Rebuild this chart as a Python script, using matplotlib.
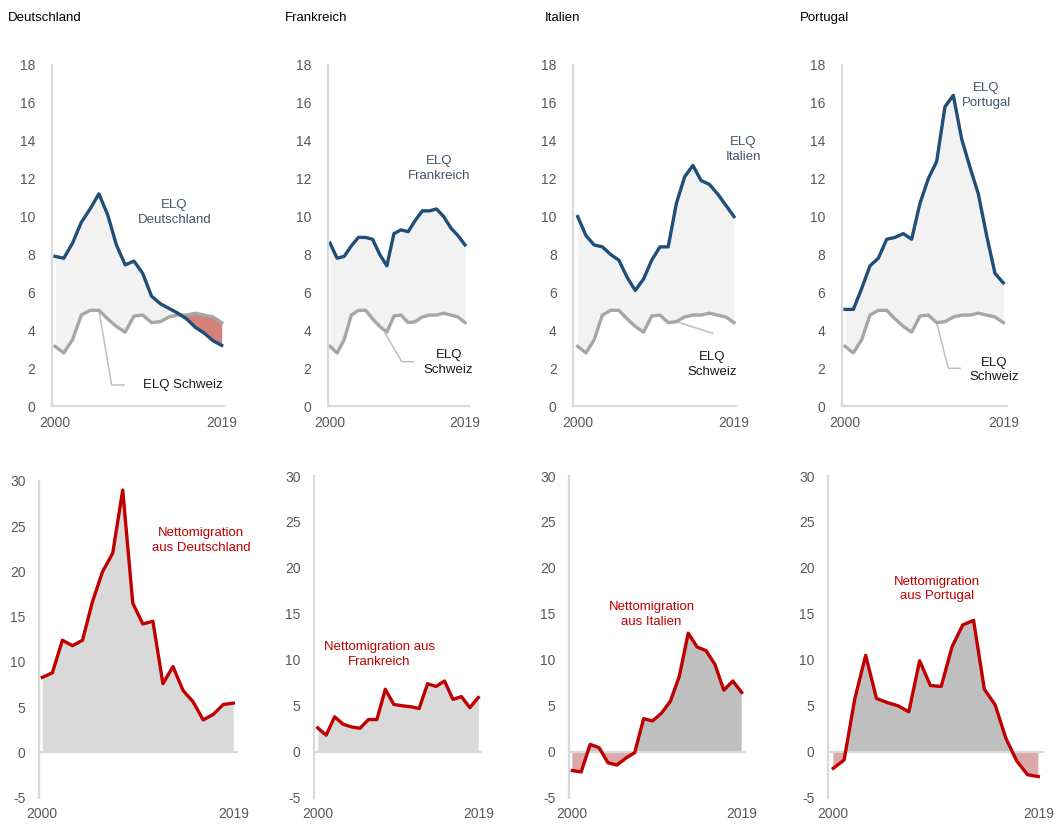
import numpy as np
import matplotlib
matplotlib.use("Agg")
from matplotlib import pyplot as plt

plt.rcParams['font.family'] = ['Liberation Sans', 'DejaVu Sans']
plt.rcParams['axes.unicode_minus'] = False

W, H = 1056, 825

years = np.arange(2000, 2020)
countries = ["Deutschland", "Frankreich", "Italien", "Portugal"]

# Erwerbslosenquote (ELQ), in %
elq_schweiz = [3.15, 2.8, 3.5, 4.8, 5.05, 5.05, 4.6, 4.2, 3.9, 4.75,
               4.8, 4.4, 4.45, 4.7, 4.8, 4.8, 4.9, 4.8, 4.7, 4.4]
elq_deutschland = [7.9, 7.8, 8.6, 9.7, 10.4, 11.2, 10.1, 8.5, 7.45, 7.65,
                   7.0, 5.8, 5.4, 5.15, 4.9, 4.6, 4.15, 3.85, 3.45, 3.2]
elq_frankreich = [8.6, 7.8, 7.9, 8.45, 8.9, 8.9, 8.8, 8.0, 7.4, 9.1,
                  9.3, 9.2, 9.8, 10.3, 10.3, 10.4, 10.0, 9.4, 9.0, 8.5]
elq_italien = [10.0, 9.0, 8.5, 8.4, 8.0, 7.7, 6.8, 6.1, 6.7, 7.7,
               8.4, 8.4, 10.7, 12.1, 12.7, 11.9, 11.7, 11.2, 10.6, 10.0]
elq_portugal = [5.1, 5.1, 6.2, 7.4, 7.8, 8.8, 8.9, 9.1, 8.8, 10.7,
                12.0, 12.9, 15.8, 16.4, 14.1, 12.6, 11.2, 9.0, 7.0, 6.5]

# Nettomigration in die Schweiz, in Tausend
netto_deutschland = [8.3, 8.8, 12.4, 11.8, 12.4, 16.7, 20.0, 22.0, 29.0, 16.5,
                     14.2, 14.5, 7.6, 9.5, 6.85, 5.6, 3.6, 4.2, 5.3, 5.45]
netto_frankreich = [2.6, 1.8, 3.8, 3.0, 2.7, 2.55, 3.5, 3.5, 6.8, 5.15,
                    5.0, 4.9, 4.7, 7.4, 7.1, 7.7, 5.7, 6.0, 4.8, 5.9]
netto_italien = [-2.05, -2.2, 0.8, 0.45, -1.2, -1.45, -0.7, -0.1, 3.6, 3.35,
                 4.2, 5.5, 8.2, 12.9, 11.4, 11.0, 9.5, 6.7, 7.7, 6.45]
netto_portugal = [-1.8, -0.9, 5.8, 10.5, 5.8, 5.35, 5.0, 4.35, 9.9, 7.2,
                  7.1, 11.4, 13.8, 14.3, 6.8, 5.1, 1.45, -1.0, -2.5, -2.7]

elq = [elq_deutschland, elq_frankreich, elq_italien, elq_portugal]
netto = [netto_deutschland, netto_frankreich, netto_italien, netto_portugal]

BLUE = "#1f4e79"
SWISS = "#a6a6a6"
RED = "#c00000"
AXIS = "#d9d9d9"
TICK = "#595959"

# pixel layout: spine x, first point x, last point x, right end x, top y, bottom y
top_px = [(51.7, 55, 221.7, 224, 65, 406),
          (327.7, 330, 465, 468.5, 65, 406),
          (573.3, 577.7, 734, 736, 65, 406),
          (841.7, 845, 1003.3, 1007, 65, 406)]
bot_px = [(39.3, 42.3, 233.3, 237.5, 481, 797.7),
          (314.3, 317.7, 478.3, 482.5, 476, 797.7),
          (569.3, 572.3, 741.7, 745.5, 476, 797.7),
          (828.3, 833.3, 1038.3, 1043.5, 476, 797.7)]
title_x = [8, 285, 545, 800]

# label positions (data coords)
blue_lbl = [(2013.6, 10.2), (2015.35, 12.53), (2020.1, 13.54), (2016.95, 16.4)]
red_lbl = [(2015.8, 23.4), (2007.3, 10.6), (2008.9, 14.9), (2009.6, 17.7)]
red_txt = ["Nettomigration\naus Deutschland", "Nettomigration aus\nFrankreich",
           "Nettomigration\naus Italien", "Nettomigration\naus Portugal"]
leader = [[(2006.46, 1.11), (2007.87, 1.11)],
          [(2010.1, 2.34), (2011.7, 2.34)],
          [(2016.4, 3.84)],
          [(2012.4, 1.99), (2013.8, 1.99)]]
leader_start = [5, None, 12, 11]
leader_start_xy = [None, (2007.75, 3.84), None, None]
swiss_lbl = [(2010.0, 1.11, "ELQ Schweiz", "left"),
             (2016.7, 2.3, "ELQ\nSchweiz", "center"),
             (2016.3, 2.2, "ELQ\nSchweiz", "center"),
             (2017.9, 1.9, "ELQ\nSchweiz", "center")]


def make_axes(fig, px):
    spine, first, last, right, top, bottom = px
    ax = fig.add_axes([spine / W, 1 - bottom / H, (right - spine) / W, (bottom - top) / H])
    step = (last - first) / 19
    ax.set_xlim(2000 - (first - spine) / step, 2019 + (right - last) / step)
    for s in ["top", "right"]:
        ax.spines[s].set_visible(False)
    for s in ["left", "bottom"]:
        ax.spines[s].set_color(AXIS)
        ax.spines[s].set_linewidth(1.6)
    ax.set_xticks([2000, 2019])
    ax.tick_params(length=0, labelsize=10, colors=TICK)
    ax.tick_params(axis="x", pad=7)
    return ax


fig = plt.figure(figsize=(W / 100, H / 100), dpi=100)

for i, name in enumerate(countries):
    fig.text(title_x[i] / W, 1 - 18 / H, name, fontsize=9.5, va="center", ha="left")

    # top row: ELQ
    ax = make_axes(fig, top_px[i])
    ch = np.array(elq[i])
    sw = np.array(elq_schweiz)
    ax.fill_between(years, ch, sw, where=ch >= sw, interpolate=True, color="#f2f2f2", lw=0)
    ax.fill_between(years, ch, sw, where=ch < sw, interpolate=True, color="#d4837b", lw=0)
    ax.plot(years, sw, color=SWISS, lw=2.4, solid_joinstyle="round")
    ax.plot(years, ch, color=BLUE, lw=2.4, solid_joinstyle="round")
    ax.set_ylim(0, 18)
    ax.set_yticks(np.arange(0, 19, 2))
    ax.tick_params(axis="y", pad=12)
    bx, by = blue_lbl[i]
    ax.text(bx, by, "ELQ\n" + name, color="#44546a", fontsize=9.5, ha="center",
            va="center", linespacing=1.3)
    if leader_start[i] is not None:
        start = (years[leader_start[i]], elq_schweiz[leader_start[i]])
    else:
        start = leader_start_xy[i]
    pts = [start] + leader[i]
    ax.plot([p[0] for p in pts], [p[1] for p in pts], color="#bfbfbf", lw=1.1, zorder=1)
    sx, sy, stxt, sha = swiss_lbl[i]
    ax.text(sx, sy, stxt, color="#1a1a1a", fontsize=9.5, ha=sha, va="center",
            linespacing=1.3)

    # bottom row: Nettomigration
    ax = make_axes(fig, bot_px[i])
    nv = np.array(netto[i])
    if i < 2:
        ax.fill_between(years, nv, 0, color="#d9d9d9", lw=0)
    else:
        ax.fill_between(years, nv, 0, where=nv >= 0, interpolate=True, color="#bfbfbf", lw=0)
        ax.fill_between(years, nv, 0, where=nv < 0, interpolate=True, color="#dba9aa", lw=0)
    ax.axhline(0, color=AXIS, lw=1.6, zorder=1.5)
    ax.spines["bottom"].set_visible(False)
    ax.plot(years, nv, color=RED, lw=2.4, solid_joinstyle="round")
    ax.set_ylim(-5, 30)
    ax.set_yticks(np.arange(-5, 31, 5))
    ax.tick_params(axis="y", pad=10)
    rx, ry = red_lbl[i]
    ax.text(rx, ry, red_txt[i], color=RED, fontsize=9.5, ha="center", va="center",
            linespacing=1.3)

fig.savefig("out.png", dpi=100)
